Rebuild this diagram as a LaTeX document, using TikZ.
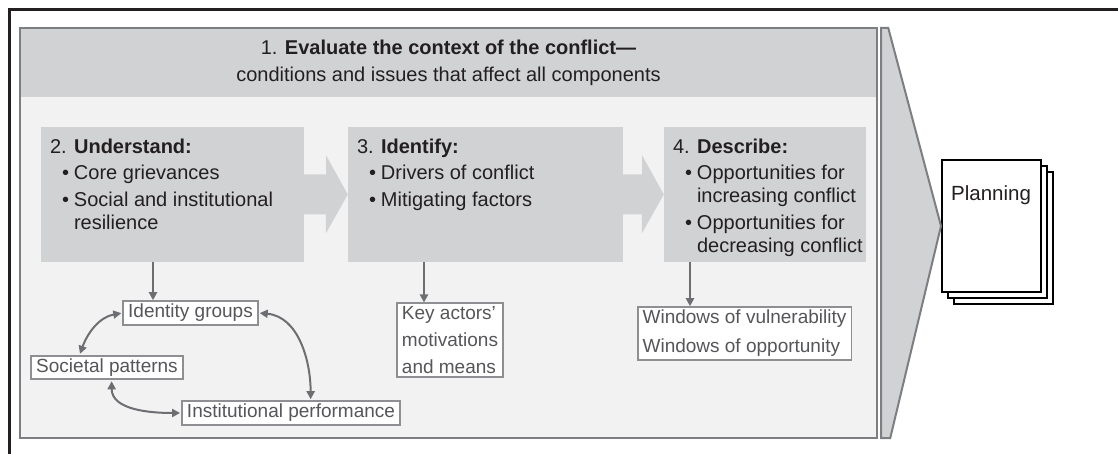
\documentclass[tikz,border=0pt]{standalone}
\usepackage{fontspec}
\setmainfont{Liberation Sans}
\usetikzlibrary{arrows.meta,positioning}
\definecolor{bandgrey}{HTML}{D1D2D4}
\definecolor{bodygrey}{HTML}{F2F2F3}
\definecolor{framegrey}{HTML}{7D7E81}
\definecolor{arrowgrey}{HTML}{6D6E71}
\definecolor{inkgrey}{HTML}{231F20}
\definecolor{itemgrey}{HTML}{555659}
\definecolor{itemframe}{HTML}{8E8F92}
\newcommand{\bul}{\hspace*{12pt}\makebox[12pt][l]{\textbullet}}
\newcommand{\cont}{\hspace*{24pt}}
\tikzset{
  phase/.style={fill=bandgrey, minimum height=135pt, inner sep=0pt},
  phasetext/.style={anchor=north west, align=left, inner sep=0pt, text=inkgrey, font=\fontsize{20}{23}\selectfont},
  factor/.style={draw=itemframe, line width=1.8pt, fill=white, text=itemgrey, font=\fontsize{19}{27}\selectfont, inner xsep=5pt, inner ysep=3pt, align=left},
  link/.style={draw=arrowgrey, line width=2pt, -{Triangle[length=8pt,width=8pt]}},
  twoway/.style={draw=arrowgrey, line width=2pt, {Triangle[length=8pt,width=8pt]}-{Triangle[length=8pt,width=8pt]}, shorten <=1pt, shorten >=1pt},
  page/.style={draw=black, line width=2pt, fill=white, minimum width=99pt, minimum height=132pt, inner sep=0pt}
}
\begin{document}
\begin{tikzpicture}[x=1pt,y=1pt]
\useasboundingbox (0,0) rectangle (1118,454);
% outer frame
\draw[line width=3pt, inkgrey] (9,0) -- (9,444) -- (1118,444);

% context of the conflict
\node[fill=bodygrey, minimum width=857pt, minimum height=410pt, inner sep=0pt] (ctx) at (448.5,221) {};
\node[fill=bandgrey, minimum width=857pt, minimum height=69pt, inner sep=0pt, anchor=north,
      align=center, text=inkgrey, font=\fontsize{20}{27}\selectfont] (hdr) at (ctx.north)
      {1. \textbf{Evaluate the context of the conflict—}\\ conditions and issues that affect all components};
\draw[framegrey, line width=2.5pt] (ctx.south west) rectangle (ctx.north east);

% the three steps
\node[phase, minimum width=263pt] (und) at (172.5,259.5) {};
\node[phase, minimum width=275pt] (idf) at (485.5,259.5) {};
\node[phase, minimum width=202pt] (dsc) at (765,259.5) {};
\fill[bandgrey] (und.east) ++(0,20) -- ++(22,0) -- ++(0,19) -- (idf.west) -- ++(-22,-39) -- ++(0,19) -- ++(-22,0) -- cycle;
\fill[bandgrey] (idf.east) ++(0,20) -- ++(19,0) -- ++(0,19) -- (dsc.west) -- ++(-22,-39) -- ++(0,19) -- ++(-19,0) -- cycle;

\node[phasetext] (undt) at ([shift={(9pt,-12pt)}]und.north west)
  {2. \textbf{Understand:}\\[3pt]
   \bul Core grievances\\[4pt]
   \bul Social and institutional\\
   \cont resilience};
\node[phasetext] (idft) at ([shift={(9pt,-12pt)}]idf.north west)
  {3. \textbf{Identify:}\\[3pt]
   \bul Drivers of conflict\\[4pt]
   \bul Mitigating factors};
\node[phasetext] (dsct) at ([shift={(9pt,-12pt)}]dsc.north west)
  {4. \textbf{Describe:}\\[3pt]
   \bul Opportunities for\\
   \cont increasing conflict\\[4pt]
   \bul Opportunities for\\
   \cont decreasing conflict};

% planning pages
\node[page] (pg3) at (1003.5,216) {};
\node[page] (pg2) at (997.5,222) {};
\node[page] (pg1) at (991.5,228) {};
\node[anchor=north west, inner sep=0pt, text=inkgrey, font=\fontsize{20.5}{23}\selectfont] (plan)
  at ([shift={(10pt,-26pt)}]pg1.north west) {Planning};

% chevron into planning
\filldraw[fill=bandgrey, draw=framegrey, line width=2pt, line join=miter]
  ([xshift=4pt]ctx.north east) -- ++(7,0) -- (pg1.west) -- ([xshift=13pt]ctx.south east) -- ([xshift=4pt]ctx.south east) -- cycle;

% factors
\node[factor] (idg) at (190.5,141) {Identity groups};
\node[factor] (soc) at (107,86.5) {Societal patterns};
\node[factor] (inst) at (291,41) {Institutional performance};
\node[factor] (key) at (450,114) {Key actors’\\motivations\\and means};
\node[factor] (win) at (744.5,120.5) {Windows of vulnerability\\[2pt]Windows of opportunity};

\coordinate (a2) at (153,0);
\coordinate (a3) at (424,0);
\coordinate (a4) at (690,0);
\draw[link] (und.south -| a2) -- (idg.north -| a2);
\draw[link] (idf.south -| a3) -- (key.north -| a3);
\draw[link] (dsc.south -| a4) -- (win.north -| a4);

\draw[twoway] (idg.west) to[out=190,in=70] (soc.155);
\draw[twoway] (idg.east) to[out=-5,in=90] (inst.33);
\draw[twoway] (soc.290) to[out=270,in=180] (inst.west);
\end{tikzpicture}
\end{document}
